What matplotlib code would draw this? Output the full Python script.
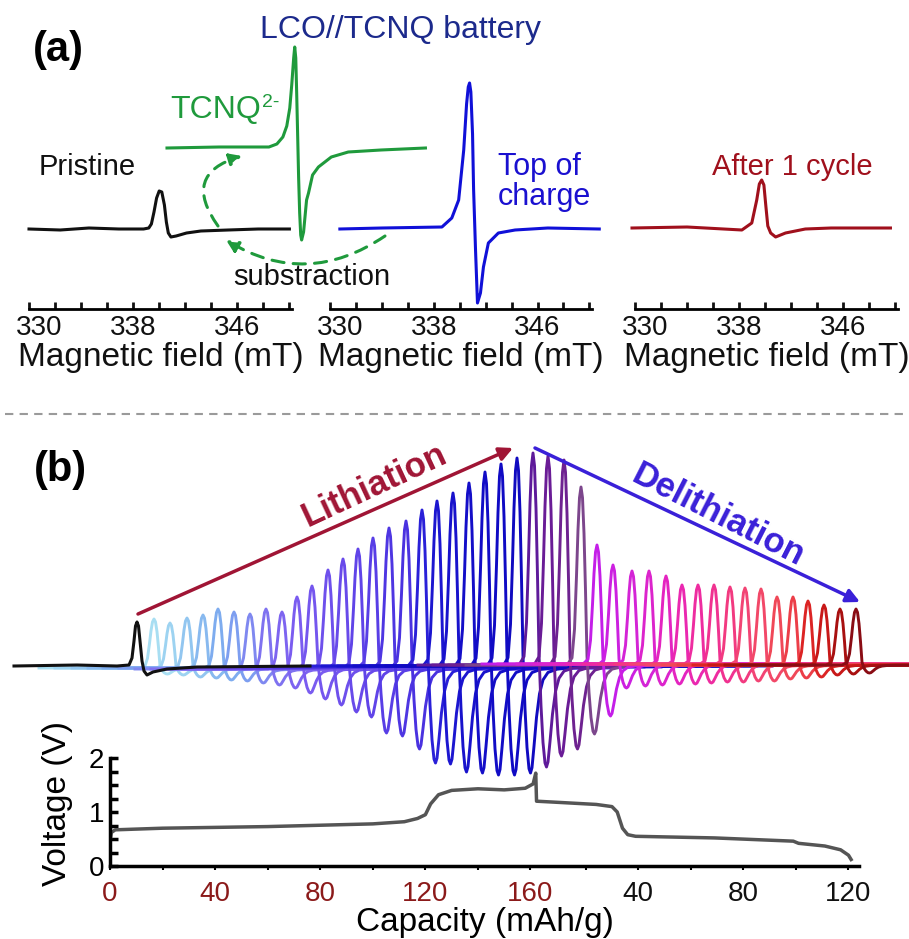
import matplotlib
matplotlib.use('Agg')
import matplotlib.pyplot as plt
from matplotlib.patches import FancyArrowPatch
from matplotlib.lines import Line2D
from matplotlib.ticker import FixedLocator, MultipleLocator
from matplotlib.transforms import ScaledTranslation

plt.rcParams['font.family'] = ['Liberation Sans', 'DejaVu Sans']
plt.rcParams['mathtext.default'] = 'regular'

W, H = 909, 939

# ---- panel (a): EPR spectra, field (mT) vs signal (a.u.) ----
pristine_field = [330.0, 332.4, 334.6, 336.9, 338.8, 339.2, 339.4, 339.6, 339.8, 340.0, 340.2,
                  340.4, 340.55, 340.7, 340.9, 341.3, 342.1, 343.2, 345.3, 347.6, 350.0]
pristine_sig = [0, -1, 1, 0, 0, 1, 5, 17, 31, 38, 37, 24, 7, -4, -8, -7, -4, -2, -1, 0, 0]

tcnq_field = [330.0, 334.0, 337.83, 338.44, 338.9, 339.2, 339.43, 339.58, 339.73, 339.81, 339.89,
              339.96, 340.04, 340.11, 340.19, 340.27, 340.34, 340.49, 340.72, 340.87, 341.18,
              341.63, 342.62, 343.92, 346.43, 349.85]
tcnq_sig = [0, 1, 1, 4, 11, 22, 40, 63, 90, 101, 90, 55, 10, -30, -65, -87, -92, -84, -52, -45,
            -27, -19, -9, -4, -2, 0]

charge_field = [330.76, 334.0, 338.63, 339.39, 339.92, 340.31, 340.53, 340.66, 340.76, 340.86,
                340.99, 341.07, 341.22, 341.37, 341.6, 341.83, 342.21, 342.98, 344.27, 346.79,
                350.76]
charge_sig = [0, 1, 2, 11, 29, 79, 125, 142, 146, 137, 95, 40, -21, -74, -64, -38, -14, -4, -1,
              1, 0]

cycle_field = [329.77, 334.0, 338.21, 338.97, 339.35, 339.55, 339.73, 339.9, 340.05, 340.2, 340.42,
               340.8, 341.56, 343.08, 345.06, 349.62]
cycle_sig = [0, 1, -2, 5, 28, 44, 48, 43, 22, 2, -5, -9, -5, -1, 0, 0]

# ---- panel (b): waterfall of EPR spectra during cycling ----
trace_pos = [154, 170, 187, 203, 218, 234, 250, 266, 282, 297, 312, 328, 343, 358, 373, 389,
             406, 422, 437, 453, 469, 485, 501, 517, 533, 548, 564, 581, 597, 613, 632, 649,
             666, 682, 698, 714, 730, 745, 761, 777, 793, 808, 824, 840, 856]
trace_peak = [49, 45, 50, 53, 59, 56, 55, 60, 57, 72, 82, 98, 109, 119, 129, 139, 146, 156, 165,
              173, 183, 194, 202, 208, 212, 209, 205, 178, 119, 99, 93, 93, 88, 79, 79, 79, 77,
              76, 76, 68, 68, 64, 60, 56, 56]
trace_trough = [6, 7, 9, 10, 12, 13, 14, 16, 19, 24, 31, 37, 44, 49, 66, 69, 82, 97, 98, 106,
                107, 109, 109, 107, 102, 91, 84, 69, 52, 24, 22, 21, 20, 20, 19, 18, 18, 17, 16,
                14, 13, 12, 10, 9, 8]
trace_base = [-2, -2, -2, -2, -2, -2, -3, -3, -3, -3, -2, -2, -2, -2, -1, -1, -1, 0, 0, 0, 0, 0,
              0, 0, 1, 1, 1, 1, 2, 2, 2, 2, 2, 2, 2, 2, 2, 2, 1, 1, 1, 1, 1, 1, 1]
trace_colors = ['#a8def2', '#9dd3f1', '#92c6f0', '#88b9ef', '#7eacef', '#7d9ef0', '#7f88f0',
                '#7f72f0', '#7d64f0', '#7a5cf0', '#7456ee', '#6e50ec', '#684aea', '#6044e8',
                '#583ee6', '#4e36e2', '#4a32e0', '#2a20d8', '#1c16d0', '#1812cc', '#140ec8',
                '#120cc6', '#100ac4', '#100ac0', '#5e1a9a', '#6a1c96', '#6e2290', '#7c468c',
                '#c41ee8', '#cc20e0', '#d424d6', '#dc24cc', '#e424c0', '#ea28b0', '#ee2ca0',
                '#f03290', '#f23a80', '#f24474', '#f24868', '#f04858', '#ec3e48', '#dc2424',
                '#c81818', '#a81010', '#8a0c14']
# normalised line shape of one spectrum (offset from peak, relative intensity)
shape_dx = [-115, -40, -14, -9, -6.5, -4.5, -3, -1.5, 0, 1.5, 3, 4.5, 6, 8, 10, 12, 13.5, 15,
            17, 19.5, 22.5, 26, 31, 40, 60, 100, 255]
shape_val = [0, 0, 0, 0.04, 0.2, 0.5, 0.76, 0.94, 1.0, 0.94, 0.74, 0.42, 0.05, -0.4, -0.76,
             -0.96, -1.0, -0.95, -0.75, -0.48, -0.26, -0.13, -0.06, -0.03, -0.01, 0, 0]
black_pos = 137
black_dx = [-123, -60, -20, -8, -5, -3, -1.5, 0, 1.5, 3, 5, 7, 10, 16, 30, 60, 173]
black_val = [0, 1, 0, 1, 8, 25, 40, 44, 40, 25, 5, -5, -9, -6, -3, -1, 0]

# ---- voltage profile ----
capacity = [0, 0.5, 2, 20, 60, 100, 112, 117, 120, 122, 125, 130, 140, 150, 158, 161, 162, 162.3,
            170, 185, 191, 193, 195, 197, 200, 230, 260, 262, 272, 278, 281, 282]
voltage = [0.45, 0.62, 0.67, 0.70, 0.73, 0.78, 0.82, 0.88, 0.95, 1.15, 1.32, 1.40, 1.43, 1.41,
           1.44, 1.52, 1.72, 1.20, 1.18, 1.14, 1.10, 1.00, 0.70, 0.58, 0.55, 0.52, 0.46, 0.42,
           0.37, 0.30, 0.20, 0.12]
cap_ticks = [0, 40, 80, 120, 160, 201, 241, 281]
cap_labels = ['0', '40', '80', '120', '160', '40', '80', '120']


def rect(x0, y0, x1, y1):
    return [x0 / W, 1 - y1 / H, (x1 - x0) / W, (y1 - y0) / H]


def fx(x):
    return x / W


def fy(y):
    return 1 - y / H


fig = plt.figure(figsize=(W / 100, H / 100), dpi=100)


def field_axis(r, ylim, spine=True):
    ax = fig.add_axes(r)
    ax.set_xlim(330, 350.2)
    ax.set_ylim(*ylim)
    ax.patch.set_visible(False)
    for s in ['top', 'left', 'right']:
        ax.spines[s].set_visible(False)
    ax.set_yticks([])
    if not spine:
        ax.spines['bottom'].set_visible(False)
        ax.set_xticks([])
        return ax
    ax.spines['bottom'].set_linewidth(2)
    ax.xaxis.set_major_locator(FixedLocator([330, 338, 346]))
    ax.xaxis.set_minor_locator(MultipleLocator(2))
    ax.tick_params(axis='x', which='both', direction='in', length=5, width=2,
                   labelsize=20, pad=4, colors='#111111')
    ax.set_xlabel('Magnetic field (mT)', fontsize=24, labelpad=1, color='#111111')
    # the "330" label sits a little right of its tick in the original
    first = ax.xaxis.get_major_ticks()[0].label1
    first.set_transform(first.get_transform() + ScaledTranslation(0.1, 0, fig.dpi_scale_trans))
    return ax


ax1 = field_axis(rect(29, 30, 292, 309), (-80, 199))
ax2 = field_axis(rect(330, 30, 592, 309), (-80, 199))
ax3 = field_axis(rect(635, 30, 898, 309), (-81, 198))
axg = field_axis(rect(167, 30, 430, 309), (-161, 118), spine=False)

ax1.plot(pristine_field, pristine_sig, color='#111111', lw=2.2, clip_on=False)
axg.plot(tcnq_field, tcnq_sig, color='#1f9a3c', lw=2.2, clip_on=False)
ax2.plot(charge_field, charge_sig, color='#1010d8', lw=2.2, clip_on=False)
ax3.plot(cycle_field, cycle_sig, color='#a0101c', lw=2.2, clip_on=False)

fig.text(fx(58), fy(50), '(a)', fontsize=30, fontweight='bold', ha='center', va='center')
fig.text(fx(400), fy(30), 'LCO//TCNQ battery', fontsize=23, color='#1c2a8c', ha='center', va='center')
t_tcnq = fig.text(fx(170), fy(110), 'TCNQ', fontsize=23, color='#1f9a3c', ha='left', va='center')
ax1.annotate('2-', xy=(1.0, 1.0), xycoords=t_tcnq, xytext=(1, 1), textcoords='offset points',
             fontsize=14, color='#1f9a3c', ha='left', va='top')
fig.text(fx(87), fy(167), 'Pristine', fontsize=21, color='#111111', ha='center', va='center')
fig.text(fx(498), fy(182), 'Top of\ncharge', fontsize=22, color='#1a10d0', ha='left', va='center',
         linespacing=1.0)
fig.text(fx(792), fy(167), 'After 1 cycle', fontsize=21, color='#a0101c', ha='center', va='center')
fig.text(fx(312), fy(277), 'substraction', fontsize=21, color='#111111', ha='center', va='center')

for a, b, rad in [((218, 226), (242, 156), -0.7), ((385, 236), (226, 240), -0.32)]:
    arr = FancyArrowPatch((fx(a[0]), fy(a[1])), (fx(b[0]), fy(b[1])), transform=fig.transFigure,
                          connectionstyle=f'arc3,rad={rad}', arrowstyle='-|>', mutation_scale=18,
                          color='#1f9a3c', lw=2.2, linestyle=(0, (4, 3)), shrinkA=0, shrinkB=0)
    fig.add_artist(arr)

fig.add_artist(Line2D([fx(5), 1], [fy(414), fy(414)], transform=fig.transFigure,
                      color='#9a9a9a', lw=1.5, ls=(0, (4, 3))))

# ---- panel (b) ----
axb = fig.add_axes(rect(0, 430, 909, 800))
axb.set_xlim(0, 909)
axb.set_ylim(-134, 236)
axb.axis('off')
axb.patch.set_visible(False)
for pos, hp, dp, b0, c in zip(trace_pos, trace_peak, trace_trough, trace_base, trace_colors):
    xs = [pos + d for d in shape_dx]
    ys = [b0 + (v * hp if v > 0 else v * dp) for v in shape_val]
    axb.plot(xs, ys, color=c, lw=2.1)
axb.plot([black_pos + d for d in black_dx], black_val, color='#111111', lw=2.2)

axb.annotate('', xy=(513, 218), xytext=(138, 52),
             arrowprops=dict(arrowstyle='-|>', color='#a01535', lw=2.5, mutation_scale=20,
                             shrinkA=0, shrinkB=0))
axb.annotate('', xy=(860, 64), xytext=(535, 218),
             arrowprops=dict(arrowstyle='-|>', color='#3a20d8', lw=2.5, mutation_scale=20,
                             shrinkA=0, shrinkB=0))
axb.text(374, 181, 'Lithiation', fontsize=25, fontweight='bold', color='#a01535',
         rotation=25, ha='center', va='center', rotation_mode='anchor')
axb.text(718, 151, 'Delithiation', fontsize=25, fontweight='bold', color='#3a20d8',
         rotation=-27, ha='center', va='center', rotation_mode='anchor')
fig.text(fx(60), fy(470), '(b)', fontsize=30, fontweight='bold', ha='center', va='center')

axv = fig.add_axes(rect(110, 758, 859, 866))
axv.patch.set_visible(False)
axv.plot(capacity, voltage, color='#555555', lw=2.5)
axv.set_xlim(0, 285)
axv.set_ylim(0, 2)
for s in ['top', 'right']:
    axv.spines[s].set_visible(False)
for s in ['left', 'bottom']:
    axv.spines[s].set_linewidth(2.5)
axv.set_yticks([0, 1, 2])
axv.yaxis.set_minor_locator(MultipleLocator(0.25))
axv.tick_params(axis='y', which='both', direction='in', length=6, width=2.5, labelsize=20, pad=4)
axv.set_xticks(cap_ticks)
axv.set_xticklabels(cap_labels)
axv.set_xticks([20, 60, 100, 140, 181, 221, 261], minor=True)
axv.tick_params(axis='x', which='both', direction='out', length=3, width=1.5, labelsize=20, pad=8)
for i, lab in enumerate(axv.get_xticklabels()):
    lab.set_color('#8b1a1a' if i < 5 else '#111111')
for i, t in enumerate(axv.xaxis.get_major_ticks()):
    t.tick1line.set_color('#8b1a1a' if i < 5 else '#111111')
for i, t in enumerate(axv.xaxis.get_minor_ticks()):
    t.tick1line.set_color('#8b1a1a' if i < 4 else '#111111')
axv.set_xlabel('Capacity (mAh/g)', fontsize=24, labelpad=0)
axv.set_ylabel('Voltage (V)', fontsize=24)
axv.yaxis.set_label_coords(-0.05, 0.58)

fig.savefig('out.png', dpi=100)
